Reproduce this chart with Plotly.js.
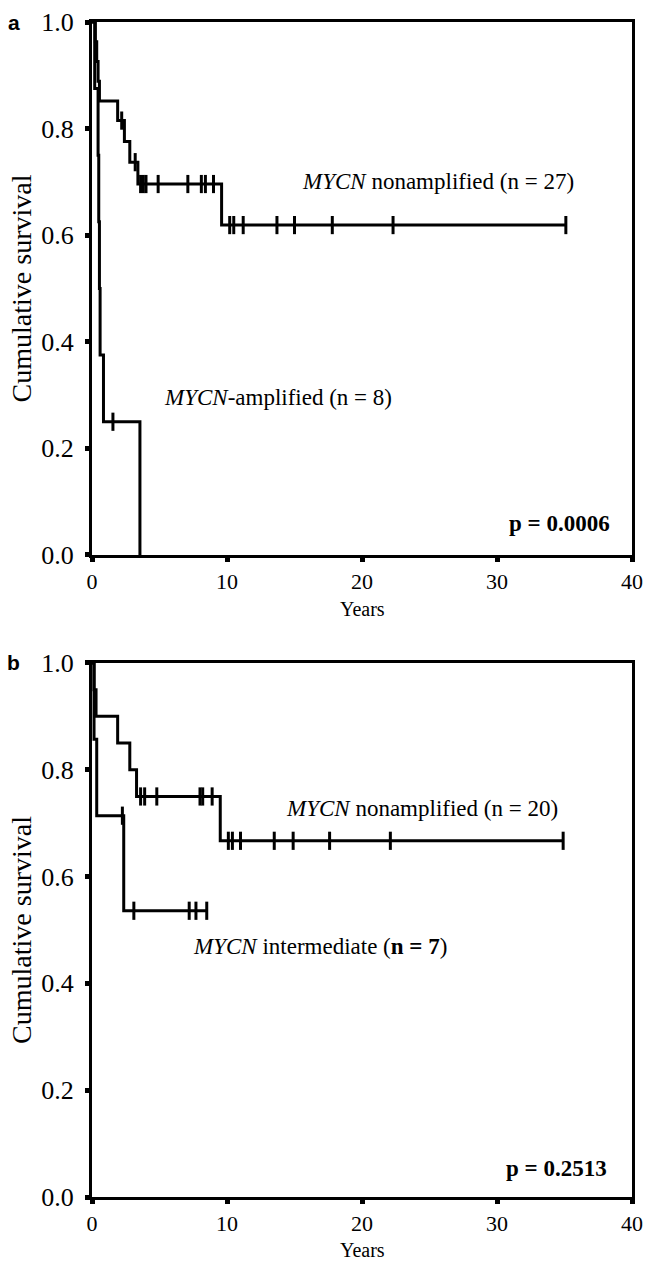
<!DOCTYPE html>
<html>
<head>
<meta charset="utf-8">
<script src="https://cdn.plot.ly/plotly-3.0.1.min.js"></script>
<style>html,body{margin:0;padding:0;background:#fff;}#chart{width:645px;height:1261px;}</style>
</head>
<body>
<div id="chart"></div>
<script>
// ---- Panel a: MYCN nonamplified (n = 27) ----
var aNonampTime = [0, 0.25, 0.35, 0.45, 0.55, 1.9, 2.4, 2.8, 3.4, 9.6, 35.1];
var aNonampSurv = [1, 0.963, 0.926, 0.889, 0.852, 0.815, 0.776, 0.737, 0.696, 0.619, 0.619];
var aNonampCensTime = [2.2, 3.2, 3.6, 3.8, 4.0, 4.9, 7.1, 8.1, 8.4, 9.0, 10.2, 10.5, 11.2, 13.7, 15.0, 17.8, 22.3, 35.1];
var aNonampCensSurv = [0.815, 0.737, 0.696, 0.696, 0.696, 0.696, 0.696, 0.696, 0.696, 0.696, 0.619, 0.619, 0.619, 0.619, 0.619, 0.619, 0.619, 0.619];
// ---- Panel a: MYCN-amplified (n = 8) ----
var aAmpTime = [0, 0.2, 0.45, 0.5, 0.55, 0.6, 0.85, 3.55];
var aAmpSurv = [1, 0.875, 0.75, 0.625, 0.5, 0.375, 0.25, 0];
var aAmpCensTime = [1.55];
var aAmpCensSurv = [0.25];
// ---- Panel b: MYCN nonamplified (n = 20) ----
var bNonampTime = [0, 0.15, 0.3, 1.9, 2.8, 3.3, 9.5, 34.9];
var bNonampSurv = [1, 0.95, 0.9, 0.85, 0.8, 0.75, 0.667, 0.667];
var bNonampCensTime = [3.6, 3.9, 4.8, 8.0, 8.2, 8.9, 10.1, 10.4, 11.0, 13.5, 14.9, 17.6, 22.1, 34.9];
var bNonampCensSurv = [0.75, 0.75, 0.75, 0.75, 0.75, 0.75, 0.667, 0.667, 0.667, 0.667, 0.667, 0.667, 0.667, 0.667];
// ---- Panel b: MYCN intermediate (n = 7) ----
var bInterTime = [0, 0.15, 0.35, 2.35, 8.5];
var bInterSurv = [1, 0.857, 0.714, 0.536, 0.536];
var bInterCensTime = [2.25, 3.1, 7.2, 7.7, 8.5];
var bInterCensSurv = [0.714, 0.536, 0.536, 0.536, 0.536];
// ---- Axis ticks ----
var xTicks = [0, 10, 20, 30, 40];
var yTicks = [0.0, 0.2, 0.4, 0.6, 0.8, 1.0];
var yTickText = ['0.0', '0.2', '0.4', '0.6', '0.8', '1.0'];

var SERIF = 'Liberation Serif, Times New Roman, serif';

function stepLine(t, s, xa, ya) {
  return {x: t, y: s, xaxis: xa, yaxis: ya, type: 'scatter', mode: 'lines',
    line: {color: '#000', width: 3, shape: 'hv'}, cliponaxis: false, hoverinfo: 'skip', showlegend: false};
}
function cens(t, s, xa, ya) {
  return {x: t, y: s, xaxis: xa, yaxis: ya, type: 'scatter', mode: 'markers',
    marker: {symbol: 'line-ns-open', size: 13, color: '#000', line: {color: '#000', width: 3}},
    cliponaxis: false, hoverinfo: 'skip', showlegend: false};
}

var data = [
  stepLine(aNonampTime, aNonampSurv, 'x', 'y'),
  cens(aNonampCensTime, aNonampCensSurv, 'x', 'y'),
  stepLine(aAmpTime, aAmpSurv, 'x', 'y'),
  cens(aAmpCensTime, aAmpCensSurv, 'x', 'y'),
  stepLine(bNonampTime, bNonampSurv, 'x2', 'y2'),
  cens(bNonampCensTime, bNonampCensSurv, 'x2', 'y2'),
  stepLine(bInterTime, bInterSurv, 'x2', 'y2'),
  cens(bInterCensTime, bInterCensSurv, 'x2', 'y2')
];

function xAxis(anchor) {
  return {domain: [0, 1], range: [0, 40], anchor: anchor, tickvals: xTicks, ticks: 'outside',
    ticklen: 4, tickwidth: 5, tickcolor: '#000', showline: true, linewidth: 3, linecolor: '#000',
    mirror: true, showgrid: false, zeroline: false, ticklabelstandoff: 1,
    tickfont: {family: SERIF, size: 22, color: '#000'}};
}
function yAxis(anchor, dom) {
  return {domain: dom, range: [0, 1], anchor: anchor, tickvals: yTicks, ticktext: yTickText, ticks: 'outside',
    ticklen: 4, tickwidth: 5, tickcolor: '#000', showline: true, linewidth: 3, linecolor: '#000',
    mirror: true, showgrid: false, zeroline: false, ticklabelstandoff: 6,
    tickfont: {family: SERIF, size: 26, color: '#000'},
    title: {text: 'Cumulative survival', font: {family: SERIF, size: 28, color: '#000'}, standoff: 2}};
}

var annFont = {family: SERIF, size: 23, color: '#000'};
var titleFont = {family: SERIF, size: 20, color: '#000'};
var layout = {
  width: 645, height: 1261,
  margin: {l: 92, r: 13, t: 22, b: 64},
  paper_bgcolor: '#fff', plot_bgcolor: '#fff',
  showlegend: false,
  xaxis: xAxis('y'),
  yaxis: yAxis('x', [0.5464, 1]),
  xaxis2: xAxis('y2'),
  yaxis2: yAxis('x2', [0, 0.4545]),
  annotations: [
    {xref: 'x', yref: 'y', x: 20, y: 0, yshift: -54, xanchor: 'center', yanchor: 'middle', showarrow: false,
      text: 'Years', font: titleFont},
    {xref: 'x2', yref: 'y2', x: 20, y: 0, yshift: -53, xanchor: 'center', yanchor: 'middle', showarrow: false,
      text: 'Years', font: titleFont},
    {xref: 'x', yref: 'y', x: 15.4, y: 0.70, xanchor: 'left', yanchor: 'middle', showarrow: false,
      text: '<i>MYCN</i> nonamplified (n = 27)', font: annFont},
    {xref: 'x', yref: 'y', x: 5.2, y: 0.295, xanchor: 'left', yanchor: 'middle', showarrow: false,
      text: '<i>MYCN</i>-amplified (n = 8)', font: annFont},
    {xref: 'x', yref: 'y', x: 38.5, y: 0.06, xanchor: 'right', yanchor: 'middle', showarrow: false,
      text: '<b>p = 0.0006</b>', font: annFont},
    {xref: 'x2', yref: 'y2', x: 14.2, y: 0.728, xanchor: 'left', yanchor: 'middle', showarrow: false,
      text: '<i>MYCN</i> nonamplified (n = 20)', font: annFont},
    {xref: 'x2', yref: 'y2', x: 7.3, y: 0.47, xanchor: 'left', yanchor: 'middle', showarrow: false,
      text: '<i>MYCN</i> intermediate (<b>n = 7</b>)', font: annFont},
    {xref: 'x2', yref: 'y2', x: 38.3, y: 0.054, xanchor: 'right', yanchor: 'middle', showarrow: false,
      text: '<b>p = 0.2513</b>', font: annFont},
    {xref: 'paper', yref: 'paper', x: -0.145, y: 1.0, xanchor: 'center', yanchor: 'middle', showarrow: false,
      text: '<b>a</b>', font: {family: 'Liberation Sans, Arial, sans-serif', size: 21, color: '#000'}},
    {xref: 'paper', yref: 'paper', x: -0.145, y: 0.4545, xanchor: 'center', yanchor: 'middle', showarrow: false,
      text: '<b>b</b>', font: {family: 'Liberation Sans, Arial, sans-serif', size: 21, color: '#000'}}
  ]
};

Plotly.newPlot('chart', data, layout, {staticPlot: true, displayModeBar: false});
</script>
</body>
</html>
